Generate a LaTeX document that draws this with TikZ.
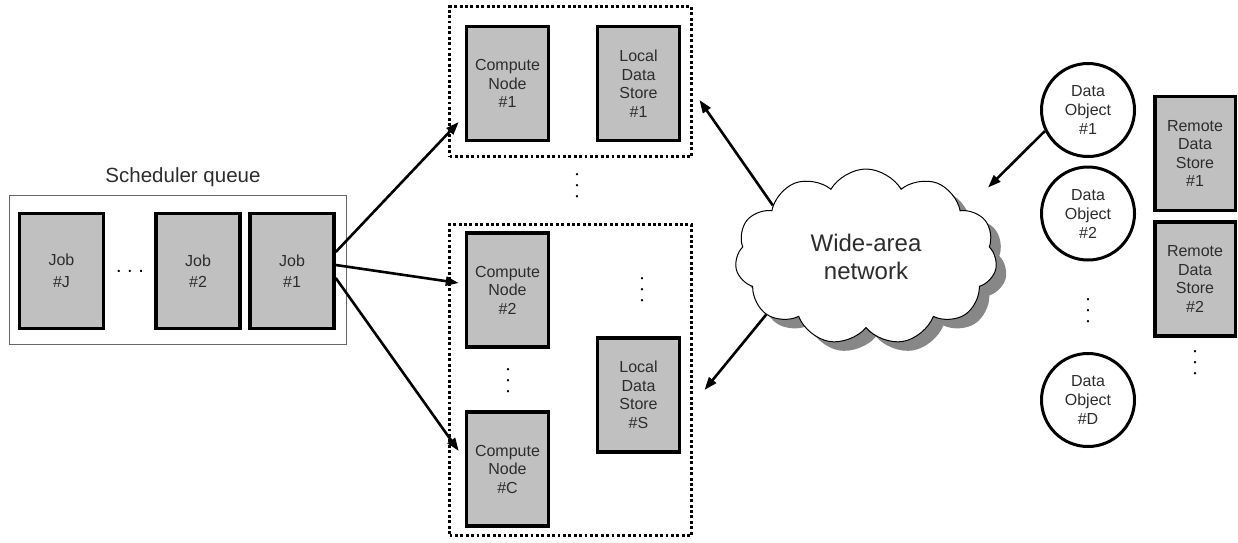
\documentclass[tikz,border=0pt]{standalone}
\usepackage{fontspec}
\setmainfont{Liberation Sans}
\usetikzlibrary{arrows.meta,shapes.symbols,shadows,calc}
\definecolor{boxgray}{RGB}{192,192,192}
\definecolor{txtgray}{RGB}{45,45,45}
\definecolor{shadowgray}{RGB}{135,135,135}

\begin{document}
\begin{tikzpicture}[x=1pt,y=1pt,yscale=-1,xscale=1,
	every node/.style={text=txtgray},
	unit/.style={draw=black, line width=3.5pt, fill=boxgray, minimum width=82pt, minimum height=114pt, inner sep=0pt, align=center, font=\fontsize{16}{18.5}\selectfont},
	job/.style={unit, minimum width=84pt, minimum height=115pt, font=\fontsize{16}{21.5}\selectfont},
	dobj/.style={circle, draw=black, line width=3pt, fill=white, minimum size=93pt, inner sep=0pt, align=center, font=\fontsize{16}{19}\selectfont},
	group/.style={draw=black, line width=2.9pt, dash pattern=on 2.9pt off 2.5pt, minimum width=242pt, inner sep=0pt},
	vdotsnode/.style={align=center, inner sep=0pt, text=black, font=\fontsize{8.5}{11}\selectfont},
	link/.style={line width=2.6pt, -{Triangle[length=13pt,width=9pt]}}
	]
	\useasboundingbox (0,0) rectangle (1238,542);
	\node[draw=black!60, line width=1pt, minimum width=337pt, minimum height=149pt] (queue) at (178,270) {};
	\node[font=\fontsize{20.5}{24}\selectfont] (qlabel) at (183,177) {Scheduler queue};
	\node[job] (jobJ) at (61.5,271) {Job\\\#J};
	\node[job] (job2) at (198,271) {Job\\\#2};
	\node[job] (job1) at (292,271) {Job\\\#1};
	\node[font=\fontsize{20}{24}\selectfont, text=black, anchor=base, inner sep=0pt] (qdots) at (130,272) {.~.~.};

	\node[group, minimum height=150pt] (grp1) at (570.5,81.5) {};
	\node[group, minimum height=311pt] (grp2) at (570.5,380) {};
	\node[unit] (cn1) at (507.5,83.5) {Compute\\Node\\\#1};
	\node[unit] (lds1) at (638.5,83.5) {Local\\Data\\Store\\\#1};
	\node[unit] (cn2) at (507.5,290) {Compute\\Node\\\#2};
	\node[unit] (cnC) at (507.5,469) {Compute\\Node\\\#C};
	\node[unit] (ldsS) at (638.5,395) {Local\\Data\\Store\\\#S};
	\node[vdotsnode] (gdots) at (577,187) {\textbullet\\\textbullet\\\textbullet};
	\node[vdotsnode] (cdots) at (508,382) {\textbullet\\\textbullet\\\textbullet};
	\node[vdotsnode] (sdots) at (642,291) {\textbullet\\\textbullet\\\textbullet};

	\node[cloud, cloud puffs=11, cloud puff arc=120, cloud ignores aspect, draw=black, line width=1pt, fill=white, minimum width=262pt, minimum height=176pt, drop shadow={shadow xshift=10pt, shadow yshift=-9pt, fill=shadowgray, opacity=1}, align=center, font=\fontsize{24}{28.5}\selectfont] (wan) at (866,257) {Wide-area\\network};

	\node[dobj] (do1) at (1088,110) {Data\\Object\\\#1};
	\node[dobj] (do2) at (1088,213.5) {Data\\Object\\\#2};
	\node[dobj] (doD) at (1088,400) {Data\\Object\\\#D};
	\node[vdotsnode] (odots) at (1088,312) {\textbullet\\\textbullet\\\textbullet};
	\node[unit, minimum width=80.5pt] (rds1) at (1195,153.5) {Remote\\Data\\Store\\\#1};
	\node[unit, minimum width=80.5pt] (rds2) at (1195,279) {Remote\\Data\\Store\\\#2};
	\node[vdotsnode] (rdots) at (1195,364) {\textbullet\\\textbullet\\\textbullet};

	\draw[link] ($(job1.east)+(0,-19)$) -- ($(cn1.west)+(-6,38.5)$);
	\draw[link] ($(job1.east)+(0,-6)$) -- ($(cn2.west)+(-6,-7)$);
	\draw[link] ($(job1.east)+(0,7)$) -- ($(cnC.west)+(-6,-18)$);
	\draw[link] (wan.151) -- ($(grp1.east)+(6.5,18.5)$);
	\draw[link] (wan.210) -- ($(grp2.east)+(11.5,10)$);
	\draw[link] (do1.206) -- ($(wan.center)+(122,-69.5)$);
\end{tikzpicture}
\end{document}
